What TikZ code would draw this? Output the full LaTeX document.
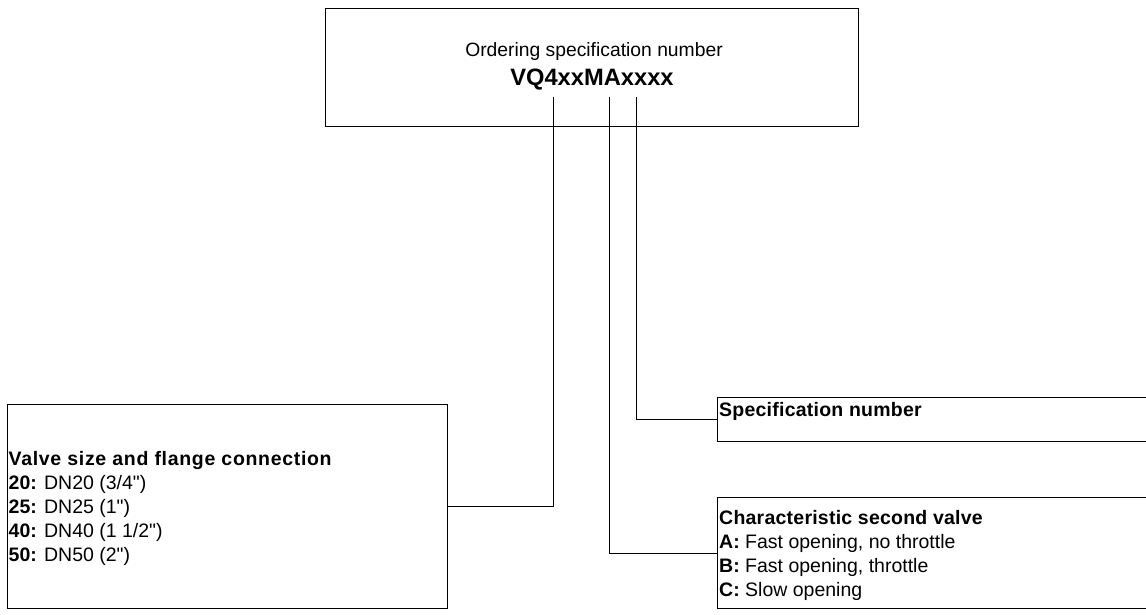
\documentclass[tikz,border=0pt]{standalone}
\usepackage{fontspec}
\setmainfont{Liberation Sans}[Ligatures=TeXOff]
\begin{document}
\begin{tikzpicture}[x=1pt,y=-1pt,
  box/.style={draw=black,line width=1.3pt,rectangle,inner sep=0pt,anchor=north west},
  conn/.style={draw=black,line width=1pt},
  boxtext/.style={inner sep=0pt,align=left,font=\fontsize{19.5}{24}\selectfont},
]
\useasboundingbox (0,0) rectangle (1146,615);
% top box
\node[box,minimum width=533pt,minimum height=118pt] (top) at (325,8) {};
\node[inner sep=0pt,anchor=base,font=\fontsize{19.3}{23}\selectfont] (t1) at (594,57) {Ordering specification number};
\node[inner sep=0pt,anchor=base,font=\fontsize{23.7}{28}\selectfont\bfseries] (t2) at (592,86) {VQ4xxMAxxxx};
% left box
\node[box,minimum width=440pt,minimum height=204pt] (left) at (7,404) {};
\node[boxtext,anchor=west] (lt) at ([xshift=1.5pt,yshift=-2pt]left.west) {{\bfseries\addfontfeature{LetterSpace=3.5}Valve size and flange connection}\\
\textbf{20:} DN20 (3/4")\\
\textbf{25:} DN25 (1")\\
\textbf{40:} DN40 (1 1/2")\\
\textbf{50:} DN50 (2")};
% spec box
\node[box,minimum width=440pt,minimum height=44pt] (spec) at (717,397) {};
\node[boxtext,anchor=north west] (st) at ([xshift=2pt,yshift=-5pt]spec.north west) {{\bfseries\addfontfeature{LetterSpace=1.2}Specification number}};
% char box
\node[box,minimum width=440pt,minimum height=111pt] (char) at (717,497) {};
\node[boxtext,anchor=west] (ct) at ([xshift=2pt,yshift=-2pt]char.west) {{\bfseries\addfontfeature{LetterSpace=1.2}Characteristic second valve}\\
\textbf{A:} Fast opening, no throttle\\
\textbf{B:} Fast opening, throttle\\
\textbf{C:} Slow opening};
% connector origins
\coordinate (c1) at (553,97);
\coordinate (c2) at (609,97);
\coordinate (c3) at (636,97);
\draw[conn] (c1) |- (left.east);
\draw[conn] (c2) |- (char.west);
\draw[conn] (c3) |- (spec.west);
\end{tikzpicture}
\end{document}
